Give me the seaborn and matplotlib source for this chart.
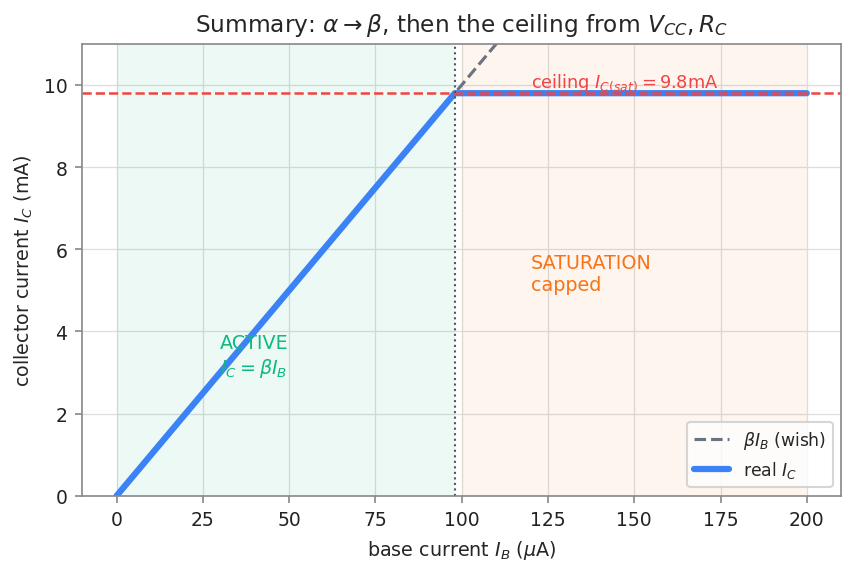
import numpy as np
import pandas as pd
import seaborn as sns
import matplotlib.pyplot as plt

# transistor values
beta = 100
ic_sat = 9.8          # mA
ib_edge = 98          # uA, where beta*IB hits the ceiling
ib_points = [0, 98, 200]
ic_wish = [beta * ib / 1000 for ib in ib_points]
ic_real = [min(v, ic_sat) for v in ic_wish]

df = pd.DataFrame({'IB': ib_points, 'wish': ic_wish, 'real': ic_real})

sns.set_style("ticks")
plt.rcParams['font.family'] = ['DejaVu Sans']
fig, ax = plt.subplots(figsize=(5.7, 3.833), dpi=150)

ax.axvspan(0, ib_edge, color='#10b981', alpha=0.08, lw=0)
ax.axvspan(100, 200, color='#f97316', alpha=0.07, lw=0)

sns.lineplot(data=df, x='IB', y='wish', ax=ax, color='#6b7280', ls='--', lw=1.5,
             label=r'$\beta I_B$ (wish)')
sns.lineplot(data=df, x='IB', y='real', ax=ax, color='#3b82f6', lw=3, label=r'real $I_C$')

ax.axhline(ic_sat, color='#ef4444', ls='--', lw=1.2)
ax.axvline(ib_edge, color='#555555', ls=':', lw=1)

ax.text(120, ic_sat, r'ceiling $I_{C(sat)}=9.8$mA', color='#ef4444', fontsize=8.5, va='bottom')
ax.text(120, 5.0, 'SATURATION\ncapped', color='#f97316', fontsize=9.2)
ax.text(30, 3.0, 'ACTIVE\n$I_C=\\beta I_B$', color='#10b981', fontsize=9.2)

ax.set_xlim(-10, 210)
ax.set_ylim(0, 11)
ax.grid(True, color='#dddddd', lw=0.6)
for s in ax.spines.values():
    s.set_color('#888888')
ax.tick_params(labelsize=9, color='#888888', labelcolor='#222222')

ax.set_xlabel(r'base current $I_B$ ($\mu$A)', fontsize=9.2)
ax.set_ylabel(r'collector current $I_C$ (mA)', fontsize=9.2)
ax.set_title(r'Summary: $\alpha \to \beta$, then the ceiling from $V_{CC}, R_C$', fontsize=11.2)
ax.legend(loc='lower right', fontsize=8.3)

fig.subplots_adjust(left=0.096, right=0.984, top=0.922, bottom=0.136)
fig.savefig('out.png', dpi=150)
